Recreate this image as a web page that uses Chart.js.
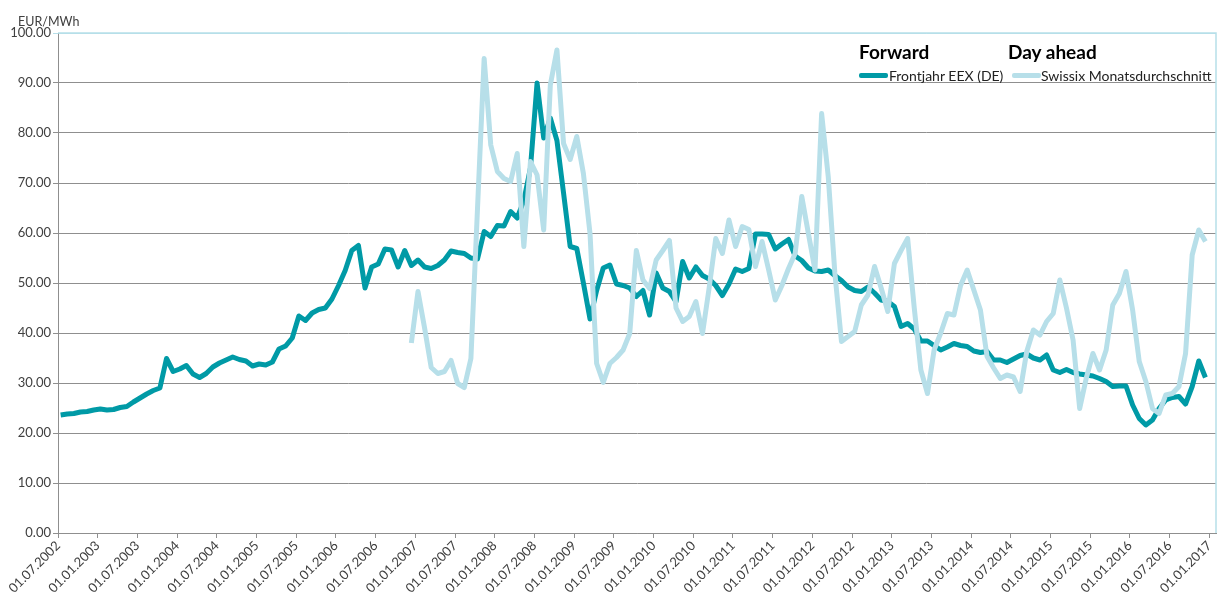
<!DOCTYPE html>
<html>
<head>
<meta charset="utf-8">
<script src="https://cdn.jsdelivr.net/npm/chart.js@4"></script>
<style>
  html, body { margin: 0; padding: 0; background: #fff; }
  #wrap { position: relative; width: 1223px; height: 596px; font-family: Lato, "Open Sans", sans-serif; }
  #chart { position: absolute; left: 0; top: 0; }
  .txt { position: absolute; white-space: nowrap; line-height: 1; }
  .unit { left: 18px; top: 16px; font-size: 12.5px; color: #404040; }
  .head { top: 42px; font-size: 19px; font-weight: bold; color: #000; }
  .item { top: 69px; font-size: 14px; color: #222; }
  .swatch { position: absolute; top: 73px; width: 29px; height: 5px; border-radius: 2px; }
</style>
</head>
<body>
<div id="wrap">
  <canvas id="chart" width="1223" height="596"></canvas>
  <div class="txt unit">EUR/MWh</div>
  <div class="txt head" style="left:859px">Forward</div>
  <div class="txt head" style="left:1008px">Day ahead</div>
  <div class="swatch" style="left:859px; background:#009aa6"></div>
  <div class="txt item" style="left:889px">Frontjahr EEX (DE)</div>
  <div class="swatch" style="left:1012px; background:#b7dfe9"></div>
  <div class="txt item" style="left:1041px">Swissix Monatsdurchschnitt</div>
</div>
<script>
// month index 0 = 07.2002, one value per month
const firstYear = 2002;
const firstMonth = 7;
const lastTickIndex = 174;   // 01.01.2017
const inMonth = 0.4;         // monthly values sit a bit after the 1st of the month

// Frontjahr EEX (DE), 07.2002 - 12.2016
const forwardValues = [
  23.6, 23.8, 23.9, 24.2, 24.3, 24.6,
  24.8, 24.6, 24.7, 25.1, 25.3, 26.2, 27.0, 27.8, 28.5, 29.0, 34.9, 32.3,
  32.8, 33.5, 31.8, 31.1, 31.9, 33.2, 34.0, 34.6, 35.2, 34.7, 34.4, 33.4,
  33.8, 33.6, 34.2, 36.8, 37.4, 39.0, 43.4, 42.5, 44.0, 44.7, 45.0, 46.8,
  49.5, 52.5, 56.5, 57.5, 49.0, 53.2, 53.8, 56.8, 56.6, 53.2, 56.5, 53.5,
  54.6, 53.2, 52.9, 53.5, 54.6, 56.4, 56.1, 55.9, 55.0, 54.8, 60.3, 59.3,
  61.5, 61.4, 64.3, 63.0, 66.5, 73.0, 90.0, 79.0, 83.0, 78.5, 68.0, 57.3,
  56.9, 50.0, 42.8, 48.5, 53.0, 53.6, 49.8, 49.5, 49.0, 47.3, 48.5, 43.6,
  52.0, 49.0, 48.3, 46.3, 54.3, 51.0, 53.2, 51.5, 50.8, 49.5, 47.5, 49.8,
  52.8, 52.3, 52.9, 59.8, 59.8, 59.7, 56.8, 57.8, 58.7, 55.4, 54.5, 53.0,
  52.4, 52.3, 52.6, 51.5, 50.5, 49.2, 48.5, 48.3, 49.2, 48.0, 46.6, 46.3,
  45.3, 41.3, 41.9, 40.8, 38.4, 38.4, 37.5, 36.6, 37.2, 37.9, 37.5, 37.3,
  36.4, 36.1, 36.3, 34.6, 34.6, 34.1, 34.8, 35.5, 35.8, 35.0, 34.6, 35.6,
  32.6, 32.1, 32.7, 32.1, 31.8, 31.6, 31.4, 30.9, 30.3, 29.3, 29.4, 29.4,
  25.6, 22.9, 21.6, 22.6, 24.9, 26.6, 27.1, 27.3, 25.8, 29.3, 34.4, 31.1
];

// Swissix Monatsdurchschnitt, starts at month index 53 (12.2006)
const swissixStart = 53;
const swissixValues = [
  38.0, 48.3, 41.0, 33.1, 31.9, 32.3, 34.5,
  29.9, 29.1, 34.9, 65.0, 94.9, 77.6, 72.3, 70.9, 70.3, 75.9, 57.3, 74.3,
  71.6, 60.6, 89.6, 96.6, 77.9, 74.7, 79.3, 71.9, 59.9, 33.9, 30.1, 33.9,
  35.1, 36.6, 39.9, 56.5, 50.6, 48.9, 54.6, 56.5, 58.5, 45.0, 42.3, 43.3,
  46.3, 39.9, 49.0, 58.9, 55.9, 62.6, 57.3, 61.3, 60.7, 53.3, 58.3, 52.6,
  46.6, 49.5, 52.9, 55.9, 67.3, 59.9, 52.6, 83.9, 71.3, 52.0, 38.3, 39.3,
  40.3, 45.6, 47.6, 53.3, 49.0, 44.3, 53.9, 56.5, 58.9, 45.0, 32.6, 27.9,
  36.6, 40.0, 43.9, 43.6, 49.5, 52.6, 48.6, 44.6, 35.3, 33.0, 30.9, 31.6,
  31.2, 28.3, 36.3, 40.6, 39.6, 42.3, 43.9, 50.6, 45.0, 38.6, 24.9, 31.0,
  35.9, 32.6, 36.6, 45.6, 47.9, 52.3, 44.6, 34.3, 30.3, 24.9, 23.9, 27.6,
  27.9, 29.3, 35.9, 55.6, 60.6, 58.3
];

const forwardColor = '#009aa6';
const swissixColor = '#b7dfe9';
const gridColor = '#8f8f8f';
const textColor = '#404040';

/// month index -> "01.MM.YYYY"
function monthLabel(i) {
  let m = firstMonth - 1 + i;
  let year = firstYear + Math.floor(m / 12);
  let month = (m % 12) + 1;
  return '01.' + String(month).padStart(2, '0') + '.' + year;
}

// light blue frame on top and right of the plot area
const plotFrame = {
  id: 'plotFrame',
  beforeDatasetsDraw(chart) {
    const { ctx, chartArea: a } = chart;
    ctx.save();
    ctx.strokeStyle = swissixColor;
    ctx.lineWidth = 1.5;
    ctx.beginPath();
    ctx.moveTo(a.left, a.top);
    ctx.lineTo(a.right, a.top);
    ctx.lineTo(a.right, a.bottom);
    ctx.stroke();
    ctx.restore();
  }
};

new Chart(document.getElementById('chart'), {
  type: 'line',
  data: {
    datasets: [
      {
        label: 'Swissix Monatsdurchschnitt',
        data: swissixValues.map((v, j) => ({ x: swissixStart + j + inMonth, y: v })),
        borderColor: swissixColor,
        borderWidth: 5,
        order: 0
      },
      {
        label: 'Frontjahr EEX (DE)',
        data: forwardValues.map((v, i) => ({ x: i + inMonth, y: v })),
        borderColor: forwardColor,
        borderWidth: 5,
        order: 1
      }
    ]
  },
  options: {
    responsive: false,
    animation: false,
    devicePixelRatio: 1,
    elements: { point: { radius: 0 }, line: { tension: 0, borderCapStyle: 'butt', borderJoinStyle: 'round' } },
    layout: { padding: { top: 33, right: 7, left: 0, bottom: 0 } },
    plugins: { legend: { display: false }, tooltip: { enabled: false } },
    scales: {
      x: {
        type: 'linear',
        min: 0,
        max: 175,
        afterBuildTicks: (scale) => {
          let ticks = [];
          for (let i = 0; i <= lastTickIndex; i += 6) ticks.push({ value: i });
          scale.ticks = ticks;
        },
        afterFit: (scale) => { scale.height = 63; },
        border: { color: gridColor, width: 1 },
        grid: { drawOnChartArea: false, color: gridColor, tickLength: 5 },
        ticks: {
          autoSkip: false,
          minRotation: 45,
          maxRotation: 45,
          padding: 0,
          color: textColor,
          font: { family: 'Lato', size: 13 },
          callback: (v) => monthLabel(v)
        }
      },
      y: {
        min: 0,
        max: 100,
        afterFit: (scale) => { scale.width = 58; },
        border: { color: gridColor, width: 1 },
        grid: {
          color: (c) => (c.tick && c.tick.value === 100 ? swissixColor : gridColor),
          tickLength: 5
        },
        ticks: {
          stepSize: 10,
          padding: 2,
          color: textColor,
          font: { family: 'Lato', size: 13 },
          callback: (v) => v.toFixed(2)
        }
      }
    }
  },
  plugins: [plotFrame]
});
</script>
</body>
</html>
